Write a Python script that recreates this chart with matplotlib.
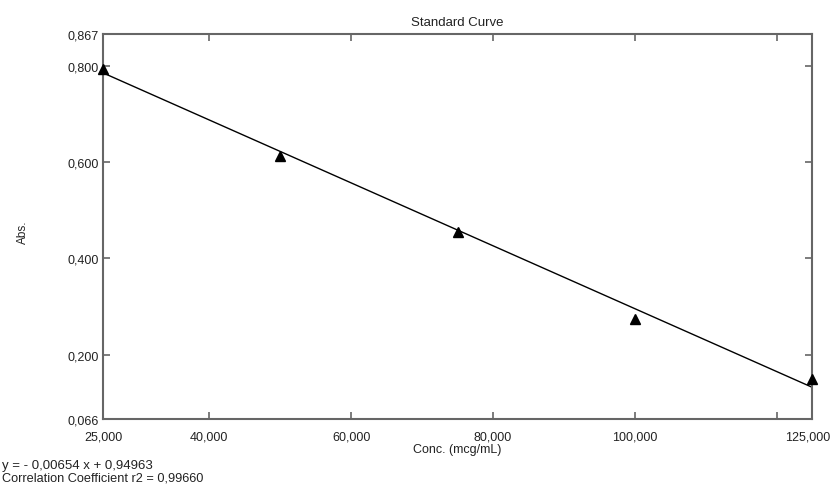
import matplotlib
matplotlib.use("Agg")
import matplotlib.pyplot as plt
import matplotlib.transforms as mtransforms
import numpy as np

plt.rcParams['font.family'] = ['Liberation Sans', 'DejaVu Sans']

# Data
conc = [25, 50, 75, 100, 125]
absorb = [0.794, 0.614, 0.456, 0.274, 0.149]
slope = -0.00654
intercept = 0.94963
xticks = [25, 40, 60, 80, 100, 120, 125]
xtick_labels = ["25,000", "40,000", "60,000", "80,000", "100,000", "", "125,000"]
yticks = [0.066, 0.2, 0.4, 0.6, 0.8, 0.867]
ytick_labels = ["0,066", "0,200", "0,400", "0,600", "0,800", "0,867"]
title = "Standard Curve"
xlabel = "Conc. (mcg/mL)"
ylabel = "Abs."
eq_text = "y = - 0,00654 x + 0,94963"
r2_text = "Correlation Coefficient r2 = 0,99660"

W, H = 832, 485
fig = plt.figure(figsize=(W/100, H/100), dpi=100)
L, R, T, B = 103, 812, 35, 420
ax = fig.add_axes([L/W, 1 - B/H, (R-L)/W, (B-T)/H])

fx = np.array([conc[0], conc[-1]])
ax.plot(fx, slope*fx + intercept, color='black', lw=1.0, zorder=2)
ax.plot(conc, absorb, linestyle='none', marker='^', color='black', ms=6.5, zorder=3, clip_on=False)

ax.set_xlim(25, 125)
ax.set_ylim(0.066, 0.867)
ax.set_xticks(xticks)
ax.set_xticklabels(xtick_labels)
ax.set_yticks(yticks)
ax.set_yticklabels(ytick_labels)
ax.tick_params(direction='in', length=5, width=1.2, color='#666666', labelsize=9,
               top=True, right=True, labeltop=False, labelright=False, pad=3, labelcolor='#222222')
ax.tick_params(axis='x', pad=8)
for s in ax.spines.values():
    s.set_color('#666666')
    s.set_linewidth(1.5)

# shift the last x tick label slightly left so it fits, as in the reference
last = ax.get_xticklabels()[-1]
last.set_transform(last.get_transform() + mtransforms.ScaledTranslation(-4/100, 0, fig.dpi_scale_trans))

fig.text((L+R)/2/W, 1 - 23/H, title, ha='center', va='center', fontsize=9.5, color='#222222')
fig.text((L+R)/2/W, 1 - 450/H, xlabel, ha='center', va='center', fontsize=9, color='#222222')
fig.text(23/W, 1 - 232/H, ylabel, ha='center', va='center', rotation=90, fontsize=8.5, color='#222222')
fig.text(2/W, 1 - 466/H, eq_text, ha='left', va='center', fontsize=9.5, color='#222222')
fig.text(2/W, 1 - 479/H, r2_text, ha='left', va='center', fontsize=9.2, color='#222222')

fig.savefig("out.png", dpi=100)
